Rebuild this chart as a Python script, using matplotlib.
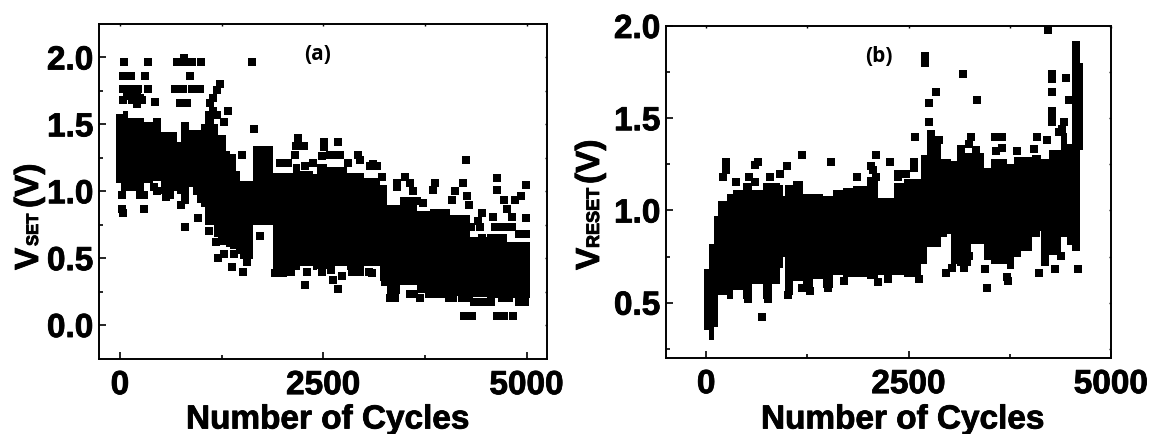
import numpy as np
import matplotlib
matplotlib.use("Agg")
import matplotlib.pyplot as plt
import matplotlib.patheffects as pe

plt.rcParams['font.family'] = ['Liberation Sans', 'DejaVu Sans']
plt.rcParams['font.weight'] = 'bold'

W, H = 1151.0, 434.0
heavy = [pe.withStroke(linewidth=0.6, foreground='black')]

# (a) solid part of the cloud, read as column edges and top / bottom voltage
a_edges = [-50, 40, 100, 200, 300, 400, 500, 600, 700, 750, 850, 900, 1000, 1050, 1150, 1200, 1300, 1350, 1430,
           1480, 1640, 1880, 2130, 2214, 2378, 2420, 2540, 2790, 3000, 3200, 3280, 3440, 3650, 3813, 4060, 4300,
           4510, 4760, 5040]
a_top = [1.58, 1.60, 1.55, 1.55, 1.52, 1.55, 1.44, 1.44, 1.37, 1.52, 1.46, 1.46, 1.50, 1.60, 1.50, 1.42, 1.30, 1.28,
         1.15, 1.08, 1.34, 1.14, 1.20, 1.15, 1.13, 1.20, 1.18, 1.14, 1.10, 1.05, 0.90, 0.96, 0.85, 0.87, 0.82, 0.66,
         0.68, 0.62]
a_low = [1.06, 1.05, 1.00, 1.00, 1.06, 1.08, 0.98, 1.00, 0.98, 0.99, 1.03, 0.97, 0.88, 0.75, 0.66, 0.60, 0.58, 0.57,
         0.53, 0.49, 0.75, 0.41, 0.41, 0.44, 0.41, 0.42, 0.44, 0.41, 0.44, 0.33, 0.23, 0.30, 0.24, 0.22, 0.22, 0.21,
         0.20, 0.20]

# (a) separate points around the cloud
a_x = [49, 349, 697, 791, 791, 881, 992, 1620, 33, 131, 303, 861, 41, 131, 226, 349, 676, 771, 881, 984, 41, 144, 267,
       430, 738, 820, 1230, 1189, 1148, 1107, 1328, 1652, 20, 33, 299, 246, 451, 20, 750, 800, 955, 800, 1373, 1509,
       1210, 1066, 1497, 1722, 2185, 2165, 2263, 2509, 2509, 2677, 2583, 2630, 2706, 2931, 3116, 3218, 3505, 3403,
       3608, 3874, 3854, 4120, 4080, 4252, 4223, 4264, 4285, 4448, 4592, 4633, 4633, 4723, 4858, 4928, 4990, 4990,
       4756, 4428, 4612, 4817, 4817, 2280, 2677, 2624, 2735, 2952, 3067, 3362, 3567, 3690, 4235, 4326, 4633, 4723,
       4838, 4981,
       82, 130, 160, 205, 246, 205, 1148, 1189, 1280, 1968, 2070, 2153, 2275, 2378, 2480, 2685, 2809, 2952, 3075, 3157,
       3403, 3505, 3567, 3649, 3731, 3320, 3380, 3570, 3620, 3800, 3880, 3950, 4050, 4100, 4200, 4290, 4350, 4420,
       4500, 4560, 4700, 4780, 4900, 4320, 4400, 4680, 4760, 4900, 4990, 4450, 60, 300, 420, 560, 620, 800, 1000,
       1100, 1180, 1280, 1400, 1560, 1900, 2000, 2100, 2300, 2480, 2600, 2850, 3100, 3260]
a_y = [1.965, 1.965, 1.965, 1.995, 1.965, 1.965, 1.965, 1.965, 1.86, 1.86, 1.86, 1.86, 1.765, 1.765, 1.765, 1.765,
       1.765, 1.765, 1.765, 1.765, 1.68, 1.68, 1.68, 1.67, 1.66, 1.66, 1.80, 1.76, 1.70, 1.66, 1.60, 1.467, 0.865,
       0.835, 0.865, 0.97, 1.0, 0.97, 0.90, 0.73, 0.80, 0.935, 0.436, 0.40, 0.50, 0.91, 1.27, 0.666, 1.40, 1.34,
       1.34, 1.37, 1.33, 1.365, 1.27, 1.27, 1.27, 1.27, 1.20, 1.11, 1.11, 1.065, 1.0, 1.065, 1.01, 1.0, 0.935, 1.235,
       1.065, 0.965, 0.90, 0.835, 0.81, 1.10, 1.01, 0.935, 0.935, 0.965, 1.05, 0.80, 0.865, 0.735, 0.735, 0.81, 0.735,
       0.30, 0.267, 0.337, 0.367, 0.40, 0.40, 0.20, 0.23, 0.20, 0.067, 0.067, 0.067, 0.067, 0.067, 0.175,
       1.71, 1.71, 1.71, 1.65, 1.70, 1.72, 1.60, 1.57, 1.52, 1.21, 1.21, 1.27, 1.19, 1.21, 1.26, 1.27, 1.21, 1.23, 1.19,
       1.19, 1.03, 1.11, 1.06, 0.93, 0.91, 0.20, 0.20, 0.23, 0.23, 0.23, 0.23, 0.23, 0.20, 0.20, 0.20, 0.20, 0.17, 0.17,
       0.17, 0.17, 0.20, 0.20, 0.17, 0.73, 0.78, 0.73, 0.73, 0.68, 0.68, 0.65, 1.03, 0.97, 1.03, 0.96, 0.97, 0.96, 0.94,
       0.70, 0.62, 0.53, 0.53, 0.47, 0.39, 0.39, 0.40, 0.40, 0.40, 0.41, 0.40, 0.39, 0.32]

# (b) solid part of the cloud
b_edges = [-30, 28, 90, 150, 254, 335, 460, 563, 706, 810, 912, 953, 974, 1076, 1200, 1323, 1446, 1570, 1693, 1816,
           1980, 2117, 2320, 2445, 2650, 2733, 2898, 3021, 3103, 3268, 3432, 3514, 3720, 3802, 3884, 4028, 4131, 4233,
           4377, 4460, 4521, 4616, 4653]
b_top = [0.68, 0.82, 0.97, 1.05, 1.09, 1.11, 1.15, 1.11, 1.15, 1.15, 1.14, 1.08, 1.14, 1.16, 1.09, 1.09, 1.08, 1.11,
         1.12, 1.13, 1.18, 1.07, 1.15, 1.17, 1.30, 1.36, 1.28, 1.27, 1.31, 1.31, 1.23, 1.28, 1.25, 1.29, 1.29, 1.30,
         1.28, 1.33, 1.42, 1.36, 1.92, 1.80]
b_low = [0.35, 0.30, 0.366, 0.54, 0.52, 0.57, 0.52, 0.60, 0.52, 0.60, 0.69, 0.75, 0.54, 0.62, 0.58, 0.63, 0.58,
         0.65, 0.64, 0.64, 0.63, 0.65, 0.65, 0.64, 0.71, 0.80, 0.87, 0.71, 0.70, 0.82, 0.73, 0.71, 0.68, 0.75, 0.78,
         0.89, 0.70, 0.76, 0.855, 0.81, 0.78, 1.33]

# (b) separate points around the cloud
b_x = [242, 242, 213, 365, 530, 604, 604, 645, 789, 912, 1003, 1179, 1537, 1857, 2034, 2096, 686, 768, 522, 1015,
       4225, 2700, 2700, 3177, 4266, 4266, 4447, 2836, 4266, 2746, 3350, 4480, 4266, 4266, 4266, 2746, 4418, 2581,
       2774, 3268, 3563, 3658, 4090, 3658, 4213, 2269, 2569, 2363, 4595, 2959, 3444, 3473, 3732, 4110, 4303, 4377,
       3247, 2926, 4069,
       2055, 2100, 2363, 2466, 2569, 2774, 2877, 3144, 3247, 3330, 3576, 3844, 4049, 4357, 4400, 1179, 1508, 1282, 1700,
       2117, 2240, 2630, 3042, 3185, 3720]
b_y = [1.263, 1.22, 1.18, 1.154, 1.18, 1.154, 1.245, 1.26, 1.18, 1.20, 1.24, 1.30, 1.26, 1.18, 1.24, 1.30, 0.42, 0.52,
       0.52, 0.54, 1.98, 1.84, 1.80, 1.74, 1.74, 1.715, 1.72, 1.64, 1.64, 1.58, 1.60, 1.60, 1.54, 1.50, 1.48, 1.48,
       1.48, 1.40, 1.415, 1.40, 1.40, 1.40, 1.40, 1.34, 1.38, 1.26, 1.26, 1.18, 0.68, 0.66, 0.68, 0.58, 0.62, 0.66,
       0.68, 0.755, 0.755, 0.88, 0.88,
       1.22, 1.18, 1.20, 1.20, 1.23, 1.38, 1.38, 1.335, 1.36, 1.33, 1.32, 1.32, 1.335, 1.425, 1.44, 0.58, 0.58, 0.565, 0.62,
       0.61, 0.63, 0.63, 0.69, 0.69, 0.64]


def panel(pos, edges, top, low, xs, ys, xlim, ylim, yticks, yminor):
    ax = fig.add_axes([pos[0] / W, 1 - pos[3] / H, (pos[2] - pos[0]) / W, (pos[3] - pos[1]) / H])
    edges = np.array(edges)
    top = np.array(top)
    low = np.array(low)
    ax.bar(edges[:-1], top - low, np.diff(edges), bottom=low, align='edge', color='black', linewidth=0)
    ax.scatter(xs, ys, s=30, marker='s', color='black', linewidths=0)
    ax.set_xlim(*xlim)
    ax.set_ylim(*ylim)
    ax.set_xticks([0, 2500, 5000])
    ax.set_xticks([1250, 3750], minor=True)
    ax.set_yticks(yticks)
    ax.set_yticks(yminor, minor=True)
    ax.tick_params(which='major', direction='in', length=5, width=1.2, labelsize=24)
    ax.tick_params(axis='x', which='major', pad=8)
    ax.tick_params(axis='y', which='major', pad=4)
    ax.tick_params(which='minor', direction='in', length=3, width=1.2)
    ax.tick_params(which='both', top=False, right=False)
    sx = ax.secondary_xaxis('top')
    sx.set_xticks([0, 1250, 2500, 3750, 5000])
    sx.tick_params(direction='in', length=1.5, width=1, labeltop=False)
    sy = ax.secondary_yaxis('right')
    sy.set_yticks(sorted(list(yticks) + list(yminor)))
    sy.tick_params(direction='in', length=1.5, width=1, labelright=False)
    for s in [sx, sy]:
        for sp in s.spines.values():
            sp.set_visible(False)
    for sp in ax.spines.values():
        sp.set_linewidth(1.4)
    for t in ax.get_xticklabels() + ax.get_yticklabels():
        t.set_path_effects(heavy)
    return ax


def ylab(x, y, s, size):
    fig.text(x / W, 1 - y / H, s, rotation=90, rotation_mode='anchor', ha='left', va='baseline', fontsize=size,
             path_effects=heavy)


fig = plt.figure(figsize=(11.51, 4.34), dpi=100)

ax1 = panel((99, 24, 547, 359), a_edges, a_top, a_low, a_x, a_y, (-258, 5250), (-0.254, 2.25),
            [0, 0.5, 1.0, 1.5, 2.0], [0.25, 0.75, 1.25, 1.75])
ax2 = panel((666, 26, 1111, 358), b_edges, b_top, b_low, b_x, b_y, (-497, 5000), (0.2, 2.0),
            [0.5, 1.0, 1.5, 2.0], [0.25, 0.75, 1.25, 1.75])

fig.text(328 / W, 1 - 420 / H, 'Number of Cycles', ha='center', va='center', fontsize=24, path_effects=heavy)
fig.text(903 / W, 1 - 420 / H, 'Number of Cycles', ha='center', va='center', fontsize=24, path_effects=heavy)

ylab(38, 270, 'V', 24)
ylab(38, 246, 'SET', 12)
ylab(38, 208, '(V)', 24)
ylab(599, 270, 'V', 24)
ylab(599, 248, 'RESET', 13)
ylab(599, 184, '(V)', 24)

fig.text(318 / W, 1 - 55 / H, '(a)', ha='center', va='center', fontsize=15, family=['Open Sans', 'DejaVu Sans'])
fig.text(879 / W, 1 - 57 / H, '(b)', ha='center', va='center', fontsize=15, family=['Open Sans', 'DejaVu Sans'])

fig.savefig('out.png', dpi=100)
